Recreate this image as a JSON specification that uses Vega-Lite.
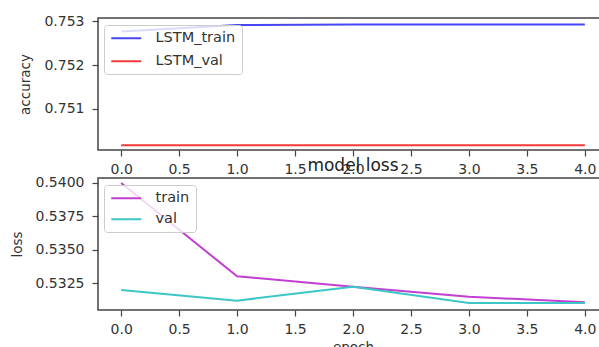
{
  "$schema": "https://vega.github.io/schema/vega-lite/v6.json",
  "autosize": {"type": "pad"},
  "padding": {"left": 9, "top": 13, "right": 0, "bottom": 0},
  "spacing": 28,
  "bounds": "flush",
  "config": {
    "font": "DejaVu Sans",
    "view": {"stroke": "#444", "strokeWidth": 1.5},
    "axis": {
      "grid": false,
      "domain": false,
      "tickColor": "#444",
      "tickWidth": 1.2,
      "tickSize": 6,
      "labelFontSize": 14,
      "labelColor": "#333",
      "titleFontSize": 13.5,
      "titleFontWeight": "normal",
      "titleColor": "#333"
    },
    "axisX": {"labelPadding": 6},
    "axisY": {"labelPadding": 8},
    "legend": {
      "orient": "none",
      "legendX": 6,
      "legendY": 7,
      "title": null,
      "symbolType": "M-2.5,0H2.5",
      "symbolSize": 144,
      "symbolStrokeWidth": 2,
      "symbolOffset": 9,
      "labelFontSize": 14.5,
      "labelColor": "#333",
      "labelOffset": 22,
      "rowPadding": 8,
      "padding": 6,
      "strokeColor": "#ccc",
      "fillColor": "rgba(255,255,255,0.8)",
      "cornerRadius": 3
    }
  },
  "datasets": {
    "acc": [
      {"epoch": 0, "accuracy": 0.75277, "series": "LSTM_train"},
      {"epoch": 1, "accuracy": 0.75292, "series": "LSTM_train"},
      {"epoch": 2, "accuracy": 0.75293, "series": "LSTM_train"},
      {"epoch": 3, "accuracy": 0.75293, "series": "LSTM_train"},
      {"epoch": 4, "accuracy": 0.75293, "series": "LSTM_train"},
      {"epoch": 0, "accuracy": 0.75016, "series": "LSTM_val"},
      {"epoch": 1, "accuracy": 0.75016, "series": "LSTM_val"},
      {"epoch": 2, "accuracy": 0.75016, "series": "LSTM_val"},
      {"epoch": 3, "accuracy": 0.75016, "series": "LSTM_val"},
      {"epoch": 4, "accuracy": 0.75016, "series": "LSTM_val"}
    ],
    "loss": [
      {"epoch": 0, "loss": 0.5400, "series": "train"},
      {"epoch": 1, "loss": 0.5330, "series": "train"},
      {"epoch": 2, "loss": 0.53223, "series": "train"},
      {"epoch": 3, "loss": 0.53148, "series": "train"},
      {"epoch": 4, "loss": 0.53106, "series": "train"},
      {"epoch": 0, "loss": 0.53198, "series": "val"},
      {"epoch": 1, "loss": 0.53118, "series": "val"},
      {"epoch": 2, "loss": 0.53223, "series": "val"},
      {"epoch": 3, "loss": 0.5310, "series": "val"},
      {"epoch": 4, "loss": 0.5310, "series": "val"}
    ]
  },
  "vconcat": [
    {
      "width": 510,
      "height": 132,
      "data": {"name": "acc"},
      "mark": {"type": "line", "strokeWidth": 2},
      "encoding": {
        "x": {
          "field": "epoch", "type": "quantitative",
          "scale": {"domain": [-0.2, 4.2], "zero": false, "nice": false},
          "axis": {"values": [0, 0.5, 1, 1.5, 2, 2.5, 3, 3.5, 4], "format": ".1f", "title": null}
        },
        "y": {
          "field": "accuracy", "type": "quantitative",
          "scale": {"domain": [0.75005, 0.75308], "zero": false, "nice": false},
          "axis": {"values": [0.751, 0.752, 0.753], "format": ".3f", "title": "accuracy", "titlePadding": 11}
        },
        "color": {
          "field": "series", "type": "nominal",
          "scale": {"domain": ["LSTM_train", "LSTM_val"], "range": ["#4646f5", "#f23a3a"]}
        }
      }
    },
    {
      "width": 510,
      "height": 132,
      "data": {"name": "loss"},
      "title": {"text": "model loss", "fontSize": 17, "fontWeight": "normal", "color": "#222", "offset": 1},
      "mark": {"type": "line", "strokeWidth": 2},
      "encoding": {
        "x": {
          "field": "epoch", "type": "quantitative",
          "scale": {"domain": [-0.2, 4.2], "zero": false, "nice": false},
          "axis": {"values": [0, 0.5, 1, 1.5, 2, 2.5, 3, 3.5, 4], "format": ".1f", "title": "epoch", "titlePadding": 4}
        },
        "y": {
          "field": "loss", "type": "quantitative",
          "scale": {"domain": [0.53048, 0.54037], "zero": false, "nice": false},
          "axis": {"values": [0.5325, 0.535, 0.5375, 0.54], "format": ".4f", "title": "loss", "titlePadding": 11}
        },
        "color": {
          "field": "series", "type": "nominal",
          "scale": {"domain": ["train", "val"], "range": ["#c23fd2", "#3cc6c6"]},
          "legend": {"rowPadding": 6}
        }
      }
    }
  ],
  "resolve": {"scale": {"color": "independent"}, "legend": {"color": "independent"}}
}
